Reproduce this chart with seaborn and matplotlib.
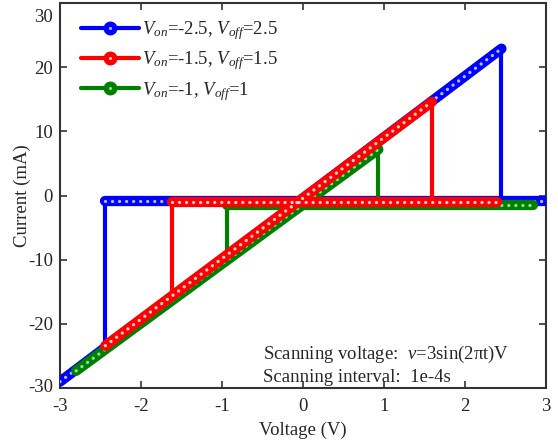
import numpy as np
import pandas as pd
import matplotlib
matplotlib.use('Agg')
import matplotlib.pyplot as plt
import matplotlib.transforms as mtrans
import seaborn as sns
from matplotlib.lines import Line2D

# data
labels = [r'$V_{on}$=-2.5, $V_{off}$=2.5',
          r'$V_{on}$=-1.5, $V_{off}$=1.5',
          r'$V_{on}$=-1, $V_{off}$=1']
colors = ['#0000ff', '#ff0000', '#008000']
shine = ['#b4bcff', '#ffcccc', '#9ad89a']

# ON branch (low resistance), OFF branch, and the two switching jumps
blue_on_v = [-3.0, 2.45]
blue_on_i = [-29.0, 22.9]
blue_off_v = [-2.45, 3.0]
blue_off_i = [-0.8, -0.8]
blue_jump_v = [2.45, 2.45, np.nan, -2.45, -2.45]
blue_jump_i = [22.9, -0.8, np.nan, -0.8, -23.8]

red_on_v = [-2.44, 1.59]
red_on_i = [-23.4, 14.6]
red_off_v = [-1.62, 2.4]
red_off_i = [-1.0, -1.0]
red_jump_v = [1.59, 1.59, np.nan, -1.62, -1.62]
red_jump_i = [14.6, -1.0, np.nan, -1.0, -15.7]

green_on_v = [-2.8, 0.93]
green_on_i = [-27.3, 7.2]
green_off_v = [-0.94, 2.84]
green_off_i = [-1.5, -1.5]
green_jump_v = [0.93, 0.93, np.nan, -0.94, -0.94]
green_jump_i = [7.2, -1.5, np.nan, -1.5, -10.1]

x_ticks = [-3, -2, -1, 0, 1, 2, 3]
y_ticks = [-30, -20, -10, 0, 10, 20, 30]

sns.set_style('ticks')
plt.rcParams['font.family'] = ['Liberation Serif', 'DejaVu Serif']
plt.rcParams['mathtext.fontset'] = 'custom'
plt.rcParams['mathtext.rm'] = 'Liberation Serif'
plt.rcParams['mathtext.it'] = 'Liberation Serif:italic'
plt.rcParams['font.size'] = 13.5

fig = plt.figure(figsize=(5.58, 4.43), dpi=100)
ax = fig.add_axes([0.1075, 0.124, 0.871, 0.869])

series = [
    (blue_on_v, blue_on_i, blue_off_v, blue_off_i, blue_jump_v, blue_jump_i, 0),
    (green_on_v, green_on_i, green_off_v, green_off_i, green_jump_v, green_jump_i, 2),
    (red_on_v, red_on_i, red_off_v, red_off_i, red_jump_v, red_jump_i, 1),
]

z = 3
for on_v, on_i, off_v, off_i, jv, ji, k in series:
    c = colors[k]
    sns.lineplot(x=jv, y=ji, estimator=None, sort=False, color=c,
                 linewidth=3.0, ax=ax, zorder=z)
    for vv, ii in [(on_v, on_i), (off_v, off_i)]:
        sns.lineplot(x=vv, y=ii, estimator=None, sort=False, color=c,
                     linewidth=7.4, solid_capstyle='round', ax=ax,
                     zorder=z + 0.1)
        sns.lineplot(x=vv, y=ii, estimator=None, sort=False, color=shine[k],
                     linewidth=2.4, linestyle=(0, (0.01, 2.1)),
                     dash_capstyle='round', ax=ax, zorder=z + 0.2)
    z += 1

ax.set_xlim(-3, 3)
ax.set_ylim(-30, 30)
ax.set_xticks(x_ticks)
ax.set_yticks(y_ticks)
ax.set_xticklabels([str(t) for t in x_ticks])
ax.set_yticklabels([str(t) for t in y_ticks])
ax.tick_params(direction='in', length=5, width=1.2, top=True, right=True,
               colors='#333333', labelcolor='#262626')
ax.tick_params(axis='x', pad=7)
ax.tick_params(axis='y', pad=5)
for s in ax.spines.values():
    s.set_visible(True)
    s.set_linewidth(1.5)
    s.set_color('#333333')
ax.set_xlabel('Voltage (V)', labelpad=5, color='#262626')
ax.set_ylabel('Current (mA)', labelpad=-2, color='#262626')

# keep the end labels inside the figure like the reference
ylabs = ax.get_yticklabels()
ylabs[-1].set_verticalalignment('top')
ylabs[-1].set_transform(mtrans.offset_copy(ylabs[-1].get_transform(),
                                           fig=fig, y=-4, units='points'))
ylabs[0].set_transform(mtrans.offset_copy(ylabs[0].get_transform(),
                                          fig=fig, y=2, units='points'))

handles = []
for k in range(3):
    ln = Line2D([], [], color=colors[k], lw=3.0, marker='o', markersize=9,
                markerfacecolor=colors[k], markeredgecolor=colors[k])
    dot = Line2D([], [], ls='none', marker='o', markersize=2.2,
                 markerfacecolor=shine[k], markeredgecolor='none')
    handles.append((ln, dot))
ax.legend(handles, labels, loc='upper left', bbox_to_anchor=(0.01, 1.0),
          frameon=False, handlelength=3.1, handletextpad=0.15,
          labelspacing=0.4, borderaxespad=0.45)

ax.text(-0.49, -25.4, 'Scanning voltage:  $v$=3sin(2πt)V', color='#262626')
ax.text(-0.49, -29.0, 'Scanning interval:  1e-4s', color='#262626')

fig.savefig('out.png', dpi=100)
